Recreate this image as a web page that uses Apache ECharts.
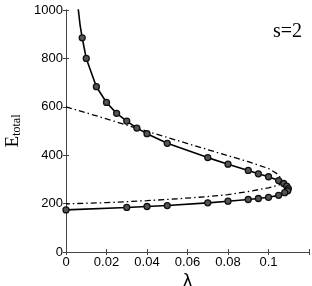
<!DOCTYPE html>
<html><head><meta charset="utf-8">
<script src="https://cdn.jsdelivr.net/npm/echarts@6/dist/echarts.min.js"></script>
<style>html,body{margin:0;padding:0;background:#fff}#c{width:312px;height:286px}</style>
</head><body><div id="c"></div>
<script>
// Solid curve extension above the plot (no markers)
const extLambda = [0.0054, 0.0061, 0.0070];
const extE      = [1060, 1000, 935];
// Solid curve points with markers
const solidLambda = [0.008,0.010,0.015,0.020,0.025,0.030,0.035,0.040,0.050,0.070,0.080,0.090,0.095,0.100,0.105,0.1075,0.109,0.1098,0.1095,0.108,0.105,0.100,0.095,0.090,0.080,0.070,0.050,0.040,0.030,0.000];
const solidE      = [885,800,683,618,573,541,512,489,449,390,363,337,323,311,295,283,272,262,253,245,234,226,221,217,210,203,192,188,184,174];
// Dash-dot curve
const dashLambda = [0.000,0.020,0.040,0.060,0.080,0.090,0.100,0.104,0.1062,0.1055,0.100,0.090,0.080,0.070,0.055,0.040,0.020,0.000];
const dashE      = [600,550,499,448,398,373,345,325,304,278,265,250,237,229,220,212,204,199];
const xTicks = [0,0.02,0.04,0.06,0.08,0.1];
const yTicks = [0,200,400,600,800,1000];
const label = 's=2';

const zip = (a,b)=>a.map((v,i)=>[v,b[i]]);
const solidLine = zip(extLambda,extE).concat(zip(solidLambda,solidE));
const fmtX = v => xTicks.some(t=>Math.abs(t-v)<1e-9) ? String(+v.toFixed(2)) : '';
const fmtY = v => yTicks.includes(v) ? String(v) : '';

const chart = echarts.init(document.getElementById('c'));
const axisCol = '#444';
chart.setOption({
  animation:false,
  grid:{left:66,right:3,top:10,bottom:34,containLabel:false,outerBoundsMode:'none'},
  xAxis:[{
    type:'value',min:0,max:0.12,interval:0.02,
    axisLine:{show:true,lineStyle:{color:axisCol,width:1}},
    axisTick:{show:true,inside:true,length:3,lineStyle:{color:axisCol}},
    axisLabel:{formatter:fmtX,color:'#000',fontFamily:'Liberation Sans',fontSize:13,margin:4},
    splitLine:{show:false},
    name:'λ',nameLocation:'middle',nameGap:17,
    nameTextStyle:{color:'#000',fontFamily:'DejaVu Sans',fontSize:17}
  },{
    type:'value',min:0,max:0.12,interval:0.02,position:'top',
    axisLine:{show:true,lineStyle:{color:axisCol,width:1}},
    axisTick:{show:true,inside:true,length:3,lineStyle:{color:axisCol}},
    axisLabel:{show:false},splitLine:{show:false}
  }],
  yAxis:[{
    type:'value',min:0,max:1000,interval:200,
    axisLine:{show:true,lineStyle:{color:axisCol,width:1}},
    axisTick:{show:true,inside:true,length:3,lineStyle:{color:axisCol}},
    axisLabel:{formatter:fmtY,color:'#000',fontFamily:'Liberation Sans',fontSize:13,margin:3},
    splitLine:{show:false},
    name:'{e|E}{s|total}',nameLocation:'middle',nameGap:38,nameRotate:90,
    nameTextStyle:{rich:{
      e:{fontFamily:'Liberation Serif',fontSize:19,color:'#000'},
      s:{fontFamily:'Liberation Serif',fontSize:12,color:'#000',verticalAlign:'bottom',padding:[8,0,0,0]}
    }}
  },{
    type:'value',min:0,max:1000,interval:200,position:'right',
    axisLine:{show:true,lineStyle:{color:axisCol,width:1}},
    axisTick:{show:true,inside:true,length:3,lineStyle:{color:axisCol}},
    axisLabel:{show:false},splitLine:{show:false}
  }],
  series:[{
    type:'line',data:zip(dashLambda,dashE),showSymbol:false,symbol:'none',smooth:false,
    lineStyle:{color:'#000',width:1.3,type:[6,3,1.5,3]},silent:true,clip:true
  },{
    type:'line',data:solidLine,symbol:'none',smooth:false,
    lineStyle:{color:'#000',width:1.6},clip:true,z:3
  },{
    type:'scatter',data:zip(solidLambda,solidE),symbol:'circle',symbolSize:6,
    itemStyle:{color:'#555',borderColor:'#111',borderWidth:1.3,opacity:1},z:4,clip:false
  }],
  graphic:[{
    type:'text',right:10,top:22,
    style:{text:label,fontFamily:'Liberation Serif',fontSize:20,fill:'#000'}
  }]
});
</script></body></html>
